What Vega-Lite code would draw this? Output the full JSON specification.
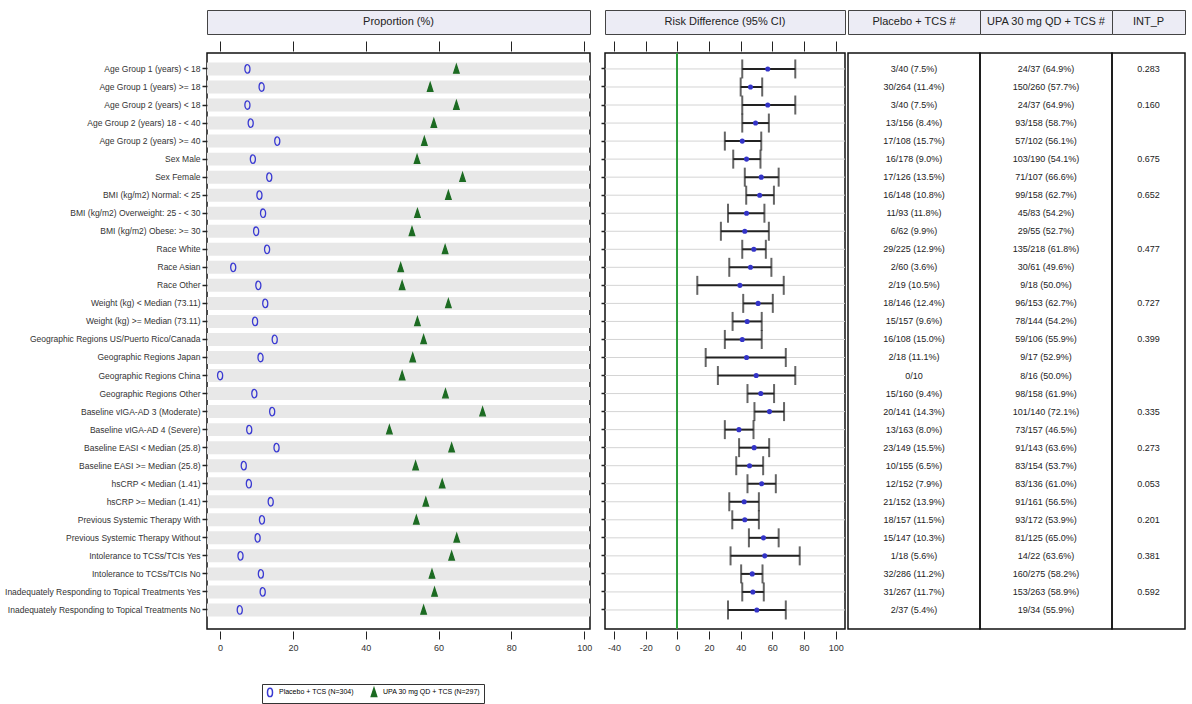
{
"$schema": "https://vega.github.io/schema/vega-lite/v6.json",
"background": "white",
"padding": {"left": 3, "top": 9, "right": 5, "bottom": 5},
"config": {"font": "Liberation Sans", "view": {"stroke": "#111", "strokeWidth": 1.5}, "axis": {"grid": false, "labelFont": "Liberation Sans", "labelColor": "#333", "tickColor": "#222"}},
"datasets": {
"rows": [
{"label":"Age Group 1 (years) < 18","pbo":7.5,"upa":64.9,"rd":57.1,"lo":41,"hi":74.5,"pbo_txt":"3/40 (7.5%)","upa_txt":"24/37 (64.9%)","p":"0.283"},
{"label":"Age Group 1 (years) >= 18","pbo":11.4,"upa":57.7,"rd":46.2,"lo":40,"hi":53.6,"pbo_txt":"30/264 (11.4%)","upa_txt":"150/260 (57.7%)","p":""},
{"label":"Age Group 2 (years) < 18","pbo":7.5,"upa":64.9,"rd":57.1,"lo":41,"hi":74.5,"pbo_txt":"3/40 (7.5%)","upa_txt":"24/37 (64.9%)","p":"0.160"},
{"label":"Age Group 2 (years) 18 - < 40","pbo":8.4,"upa":58.7,"rd":49.4,"lo":41,"hi":57.8,"pbo_txt":"13/156 (8.4%)","upa_txt":"93/158 (58.7%)","p":""},
{"label":"Age Group 2 (years) >= 40","pbo":15.7,"upa":56.1,"rd":41,"lo":30,"hi":53,"pbo_txt":"17/108 (15.7%)","upa_txt":"57/102 (56.1%)","p":""},
{"label":"Sex Male","pbo":9.0,"upa":54.1,"rd":43.7,"lo":35.3,"hi":52.5,"pbo_txt":"16/178 (9.0%)","upa_txt":"103/190 (54.1%)","p":"0.675"},
{"label":"Sex Female","pbo":13.5,"upa":66.6,"rd":53,"lo":42.6,"hi":64,"pbo_txt":"17/126 (13.5%)","upa_txt":"71/107 (66.6%)","p":""},
{"label":"BMI (kg/m2) Normal: < 25","pbo":10.8,"upa":62.7,"rd":52,"lo":43.5,"hi":61,"pbo_txt":"16/148 (10.8%)","upa_txt":"99/158 (62.7%)","p":"0.652"},
{"label":"BMI (kg/m2) Overweight: 25 - < 30","pbo":11.8,"upa":54.2,"rd":43.7,"lo":32,"hi":55,"pbo_txt":"11/93 (11.8%)","upa_txt":"45/83 (54.2%)","p":""},
{"label":"BMI (kg/m2) Obese: >= 30","pbo":9.9,"upa":52.7,"rd":42.6,"lo":27.5,"hi":57.8,"pbo_txt":"6/62 (9.9%)","upa_txt":"29/55 (52.7%)","p":""},
{"label":"Race White","pbo":12.9,"upa":61.8,"rd":48.3,"lo":41,"hi":55.9,"pbo_txt":"29/225 (12.9%)","upa_txt":"135/218 (61.8%)","p":"0.477"},
{"label":"Race Asian","pbo":3.6,"upa":49.6,"rd":46.2,"lo":32.8,"hi":59.4,"pbo_txt":"2/60 (3.6%)","upa_txt":"30/61 (49.6%)","p":""},
{"label":"Race Other","pbo":10.5,"upa":50.0,"rd":39.5,"lo":12.6,"hi":67.2,"pbo_txt":"2/19 (10.5%)","upa_txt":"9/18 (50.0%)","p":""},
{"label":"Weight (kg) < Median (73.11)","pbo":12.4,"upa":62.7,"rd":51,"lo":41.6,"hi":60.3,"pbo_txt":"18/146 (12.4%)","upa_txt":"96/153 (62.7%)","p":"0.727"},
{"label":"Weight (kg) >= Median (73.11)","pbo":9.6,"upa":54.2,"rd":44.1,"lo":34.9,"hi":53.3,"pbo_txt":"15/157 (9.6%)","upa_txt":"78/144 (54.2%)","p":""},
{"label":"Geographic Regions US/Puerto Rico/Canada","pbo":15.0,"upa":55.9,"rd":41,"lo":30,"hi":53.3,"pbo_txt":"16/108 (15.0%)","upa_txt":"59/106 (55.9%)","p":"0.399"},
{"label":"Geographic Regions Japan","pbo":11.1,"upa":52.9,"rd":43.7,"lo":17.9,"hi":68.5,"pbo_txt":"2/18 (11.1%)","upa_txt":"9/17 (52.9%)","p":""},
{"label":"Geographic Regions China","pbo":0,"upa":50.0,"rd":49.8,"lo":25.6,"hi":74.5,"pbo_txt":"0/10","upa_txt":"8/16 (50.0%)","p":""},
{"label":"Geographic Regions Other","pbo":9.4,"upa":61.9,"rd":52.7,"lo":44.3,"hi":61.1,"pbo_txt":"15/160 (9.4%)","upa_txt":"98/158 (61.9%)","p":""},
{"label":"Baseline vIGA-AD 3 (Moderate)","pbo":14.3,"upa":72.1,"rd":58.2,"lo":48.7,"hi":67.4,"pbo_txt":"20/141 (14.3%)","upa_txt":"101/140 (72.1%)","p":"0.335"},
{"label":"Baseline vIGA-AD 4 (Severe)","pbo":8.0,"upa":46.5,"rd":38.9,"lo":30,"hi":48.1,"pbo_txt":"13/163 (8.0%)","upa_txt":"73/157 (46.5%)","p":""},
{"label":"Baseline EASI < Median (25.8)","pbo":15.5,"upa":63.6,"rd":48.5,"lo":39,"hi":58,"pbo_txt":"23/149 (15.5%)","upa_txt":"91/143 (63.6%)","p":"0.273"},
{"label":"Baseline EASI >= Median (25.8)","pbo":6.5,"upa":53.7,"rd":45.6,"lo":37.2,"hi":54.2,"pbo_txt":"10/155 (6.5%)","upa_txt":"83/154 (53.7%)","p":""},
{"label":"hsCRP < Median (1.41)","pbo":7.9,"upa":61.0,"rd":53.3,"lo":44.3,"hi":62.2,"pbo_txt":"12/152 (7.9%)","upa_txt":"83/136 (61.0%)","p":"0.053"},
{"label":"hsCRP >= Median (1.41)","pbo":13.9,"upa":56.5,"rd":42.2,"lo":32.8,"hi":51.5,"pbo_txt":"21/152 (13.9%)","upa_txt":"91/161 (56.5%)","p":""},
{"label":"Previous Systemic Therapy With","pbo":11.5,"upa":53.9,"rd":42.6,"lo":34.7,"hi":51.5,"pbo_txt":"18/157 (11.5%)","upa_txt":"93/172 (53.9%)","p":"0.201"},
{"label":"Previous Systemic Therapy Without","pbo":10.3,"upa":65.0,"rd":54.4,"lo":45.2,"hi":64,"pbo_txt":"15/147 (10.3%)","upa_txt":"81/125 (65.0%)","p":""},
{"label":"Intolerance to TCSs/TCIs Yes","pbo":5.6,"upa":63.6,"rd":55.2,"lo":33.6,"hi":77.3,"pbo_txt":"1/18 (5.6%)","upa_txt":"14/22 (63.6%)","p":"0.381"},
{"label":"Intolerance to TCSs/TCIs No","pbo":11.2,"upa":58.2,"rd":47.3,"lo":40.3,"hi":53.8,"pbo_txt":"32/286 (11.2%)","upa_txt":"160/275 (58.2%)","p":""},
{"label":"Inadequately Responding to Topical Treatments Yes","pbo":11.7,"upa":58.9,"rd":47.7,"lo":41,"hi":54.6,"pbo_txt":"31/267 (11.7%)","upa_txt":"153/263 (58.9%)","p":"0.592"},
{"label":"Inadequately Responding to Topical Treatments No","pbo":5.4,"upa":55.9,"rd":50.2,"lo":32,"hi":68.5,"pbo_txt":"2/37 (5.4%)","upa_txt":"19/34 (55.9%)","p":""}
]
},
"bounds": "flush",
"columns": 7,
"spacing": {"row": 19, "column": 0},
"concat": [
 {"width": 383, "height": 24, "data": {"values": [{"h": "Proportion (%)"}]}, "view": {"fill": "#ececf5", "stroke": "#444", "strokeWidth": 1}, "mark": {"type": "text", "fontSize": 11, "color": "#222"}, "encoding": {"text": {"field": "h"}}},
 {"width": 15, "height": 24, "data": {"values": [{"h": ""}]}, "view": {"stroke": null}, "mark": {"type": "text"}, "encoding": {"text": {"field": "h"}}},
 {"width": 240, "height": 24, "data": {"values": [{"h": "Risk Difference (95% CI)"}]}, "view": {"fill": "#ececf5", "stroke": "#444", "strokeWidth": 1}, "mark": {"type": "text", "fontSize": 11, "color": "#222"}, "encoding": {"text": {"field": "h"}}},
 {"width": 3, "height": 24, "data": {"values": [{"h": ""}]}, "view": {"stroke": null}, "mark": {"type": "text"}, "encoding": {"text": {"field": "h"}}},
 {"width": 132, "height": 24, "data": {"values": [{"h": "Placebo + TCS #"}]}, "view": {"fill": "#ececf5", "stroke": "#444", "strokeWidth": 1}, "mark": {"type": "text", "fontSize": 11, "color": "#222"}, "encoding": {"text": {"field": "h"}}},
 {"width": 132, "height": 24, "data": {"values": [{"h": "UPA 30 mg QD + TCS #"}]}, "view": {"fill": "#ececf5", "stroke": "#444", "strokeWidth": 1}, "mark": {"type": "text", "fontSize": 11, "color": "#222"}, "encoding": {"text": {"field": "h"}}},
 {"width": 73, "height": 24, "data": {"values": [{"h": "INT_P"}]}, "view": {"fill": "#ececf5", "stroke": "#444", "strokeWidth": 1}, "mark": {"type": "text", "fontSize": 11, "color": "#222"}, "encoding": {"text": {"field": "h"}}},

 {"width": 383, "height": 576, "data": {"name": "rows"},
  "layer": [
   {"mark": {"type": "rect", "color": "#e8e8e8"},
    "encoding": {
     "y": {"field": "label", "type": "nominal", "sort": null, "scale": {"type": "band", "paddingInner": 0.28, "paddingOuter": 0.61, "align": 0.43}, "axis": {"title": null, "labelFontSize": 8.5, "tickSize": 5, "tickWidth": 1.5, "domain": false, "labelPadding": 2, "labelLimit": 400}},
     "x": {"datum": -3.6, "scale": {"domain": [-3.6, 101.6], "nice": false, "zero": false}, "axis": {"title": null, "values": [0, 20, 40, 60, 80, 100], "tickSize": 8, "offset": 2, "labelFontSize": 9, "labelPadding": 4, "domain": false}},
     "x2": {"datum": 101.6}}},
   {"mark": {"type": "point", "opacity": 0},
    "encoding": {
     "y": {"field": "label", "type": "nominal", "sort": null},
     "x": {"field": "pbo", "type": "quantitative", "axis": {"orient": "top", "title": null, "values": [0, 20, 40, 60, 80, 100], "labels": false, "tickSize": 10, "offset": 2, "domain": false}}}},
   {"transform": [{"fold": ["pbo", "upa"], "as": ["arm", "pct"]}],
    "mark": {"type": "point", "opacity": 1, "strokeWidth": 1.3, "size": 72},
    "encoding": {
     "y": {"field": "label", "type": "nominal", "sort": null},
     "x": {"field": "pct", "type": "quantitative", "axis": null},
     "shape": {"field": "arm", "type": "nominal", "scale": {"domain": ["pbo", "upa"], "range": ["M-0.6,0A0.6,1 0 1,1 0.6,0A0.6,1 0 1,1 -0.6,0Z", "M0,-1L0.65,1L-0.65,1Z"]},
      "legend": {"title": null, "orient": "none", "legendX": 55, "legendY": 674, "direction": "horizontal", "labelExpr": "datum.label == 'pbo' ? 'Placebo + TCS (N=304)' : 'UPA 30 mg QD + TCS (N=297)'", "strokeColor": "#333", "padding": 3, "labelFontSize": 7, "symbolSize": 70, "columnPadding": 14}},
     "stroke": {"field": "arm", "type": "nominal", "scale": {"domain": ["pbo", "upa"], "range": ["#3a3ad2", "#1c6b22"]},
      "legend": {"title": null, "orient": "none", "legendX": 55, "legendY": 674, "direction": "horizontal", "labelExpr": "datum.label == 'pbo' ? 'Placebo + TCS (N=304)' : 'UPA 30 mg QD + TCS (N=297)'", "strokeColor": "#333", "padding": 3, "labelFontSize": 7, "symbolSize": 70, "columnPadding": 14}},
     "fill": {"field": "arm", "type": "nominal", "scale": {"domain": ["pbo", "upa"], "range": ["rgba(255,255,255,0)", "#1c6b22"]},
      "legend": {"title": null, "orient": "none", "legendX": 55, "legendY": 674, "direction": "horizontal", "labelExpr": "datum.label == 'pbo' ? 'Placebo + TCS (N=304)' : 'UPA 30 mg QD + TCS (N=297)'", "strokeColor": "#333", "padding": 3, "labelFontSize": 7, "symbolSize": 70, "columnPadding": 14}}}}
  ],
  "resolve": {"axis": {"x": "independent"}}},
 {"width": 15, "height": 576, "data": {"values": [{"h": ""}]}, "view": {"stroke": null}, "mark": {"type": "text"}, "encoding": {"text": {"field": "h"}}},
 {"width": 240, "height": 576, "data": {"name": "rows"},
  "layer": [
   {"mark": {"type": "rule", "color": "#d4d4d4", "strokeWidth": 1},
    "encoding": {"y": {"field": "label", "type": "nominal", "sort": null, "scale": {"type": "band", "paddingInner": 0.28, "paddingOuter": 0.61, "align": 0.43}, "axis": {"title": null, "labels": false, "tickSize": 4, "tickWidth": 1.5, "domain": false}}}},
   {"mark": {"type": "rule", "color": "#2f9a3a", "strokeWidth": 1},
    "encoding": {"x": {"datum": 0, "scale": {"domain": [-45.7, 105.9], "nice": false, "zero": false}, "axis": {"title": null, "values": [-40, -20, 0, 20, 40, 60, 80, 100], "labelExpr": "'' + datum.value", "tickSize": 8, "offset": 2, "labelFontSize": 9, "labelPadding": 4, "domain": false}}}},
   {"mark": {"type": "point", "opacity": 0},
    "encoding": {"y": {"field": "label", "type": "nominal", "sort": null},
     "x": {"field": "rd", "type": "quantitative", "axis": {"orient": "top", "title": null, "values": [-40, -20, 0, 20, 40, 60, 80, 100], "labels": false, "tickSize": 10, "offset": 2, "domain": false}}}},
   {"mark": {"type": "rule", "color": "#222", "strokeWidth": 2},
    "encoding": {"y": {"field": "label", "type": "nominal", "sort": null}, "x": {"field": "lo", "type": "quantitative", "axis": null}, "x2": {"field": "hi"}}},
   {"mark": {"type": "tick", "color": "#222", "size": 19, "thickness": 2},
    "encoding": {"y": {"field": "label", "type": "nominal", "sort": null}, "x": {"field": "lo", "type": "quantitative", "axis": null}}},
   {"mark": {"type": "tick", "color": "#222", "size": 19, "thickness": 2},
    "encoding": {"y": {"field": "label", "type": "nominal", "sort": null}, "x": {"field": "hi", "type": "quantitative", "axis": null}}},
   {"mark": {"type": "circle", "color": "#3434c8", "size": 26, "opacity": 1},
    "encoding": {"y": {"field": "label", "type": "nominal", "sort": null}, "x": {"field": "rd", "type": "quantitative", "axis": null}}}
  ],
  "resolve": {"axis": {"x": "independent"}}},
 {"width": 3, "height": 576, "data": {"values": [{"h": ""}]}, "view": {"stroke": null}, "mark": {"type": "text"}, "encoding": {"text": {"field": "h"}}},
 {"width": 132, "height": 576, "data": {"name": "rows"}, "mark": {"type": "text", "fontSize": 9, "color": "#222"},
  "encoding": {"y": {"field": "label", "type": "nominal", "sort": null, "scale": {"type": "band", "paddingInner": 0.28, "paddingOuter": 0.61, "align": 0.43}, "axis": null}, "text": {"field": "pbo_txt"}}},
 {"width": 132, "height": 576, "data": {"name": "rows"}, "mark": {"type": "text", "fontSize": 9, "color": "#222"},
  "encoding": {"y": {"field": "label", "type": "nominal", "sort": null, "scale": {"type": "band", "paddingInner": 0.28, "paddingOuter": 0.61, "align": 0.43}, "axis": null}, "text": {"field": "upa_txt"}}},
 {"width": 73, "height": 576, "data": {"name": "rows"}, "mark": {"type": "text", "fontSize": 9, "color": "#222"},
  "encoding": {"y": {"field": "label", "type": "nominal", "sort": null, "scale": {"type": "band", "paddingInner": 0.28, "paddingOuter": 0.61, "align": 0.43}, "axis": null}, "text": {"field": "p"}}}
]
}
